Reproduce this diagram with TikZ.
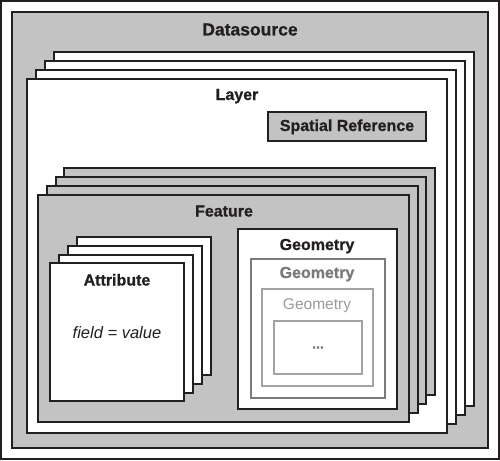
\documentclass[tikz,border=0pt]{standalone}
\usepackage{fontspec}
\setmainfont{Liberation Sans}[BoldFeatures={FakeBold=0.8}]
\definecolor{ln}{HTML}{231F20}
\definecolor{gf}{HTML}{C3C3C3}
\definecolor{gA}{HTML}{7A7A7A}
\definecolor{gB}{HTML}{A3A3A3}
\begin{document}
\begin{tikzpicture}[x=1pt,y=-1pt,
  wbox/.style={draw=ln,line width=1.6pt,fill=white},
  gbox/.style={draw=ln,line width=1.6pt,fill=gf},
  ttl/.style={font=\fontsize{16}{18}\selectfont\bfseries,text=ln,inner sep=0pt,anchor=base}]
\useasboundingbox (0,0) rectangle (500,460);
% outer
\draw[wbox] (1,1) rectangle (499,459);
\draw[gbox] (12,12) rectangle (488,448);
\node[ttl,font=\fontsize{17.5}{19}\selectfont\bfseries] (ds) at (250,35.5) {Datasource};
% layer stack
\draw[wbox] (54,52) rectangle (474,406);
\draw[wbox] (45,61) rectangle (465,415);
\draw[wbox] (36,70) rectangle (456,424);
\draw[wbox] (27,79) rectangle (447,433);
\node[ttl] (layer) at (237,100) {Layer};
\draw[gbox] (268,112) rectangle (426,141);
\node[ttl] (sr) at (347,131) {Spatial Reference};
% feature stack
\draw[gbox] (64,168) rectangle (435,395);
\draw[gbox] (56,177) rectangle (426,404);
\draw[gbox] (47,186) rectangle (418,413);
\draw[gbox] (38,195) rectangle (409,422);
\node[ttl] (feat) at (224,216.5) {Feature};
% attribute stack
\draw[wbox] (77,237) rectangle (211,375);
\draw[wbox] (68,246) rectangle (202,384);
\draw[wbox] (59,255) rectangle (193,393);
\draw[wbox] (50,263) rectangle (184,401);
\node[ttl] (attr) at (117,285.5) {Attribute};
\node[inner sep=0pt,anchor=base,font=\fontsize{16.5}{18}\selectfont\itshape,text=ln] (fv) at (117,338) {field = value};
% geometry nest
\draw[wbox] (238,229) rectangle (397,409);
\node[ttl] (g1) at (317,250) {Geometry};
\draw[draw=gA,line width=1.5pt,fill=white] (251,259) rectangle (385,398);
\node[ttl,text=gA] (g2) at (317,278) {Geometry};
\draw[draw=gB,line width=1.5pt,fill=white] (262,289) rectangle (373,386);
\node[inner sep=0pt,anchor=base,font=\fontsize{15.5}{18}\selectfont,text=gB!110] (g3) at (317,309.5) {Geometry};
\draw[draw=gB,line width=1.5pt,fill=white] (274,321) rectangle (362,374);
\node[inner sep=0pt,anchor=base,font=\fontsize{14}{16}\selectfont\bfseries,text=gA] (dots) at (318,348.5) {...};
\end{tikzpicture}
\end{document}
